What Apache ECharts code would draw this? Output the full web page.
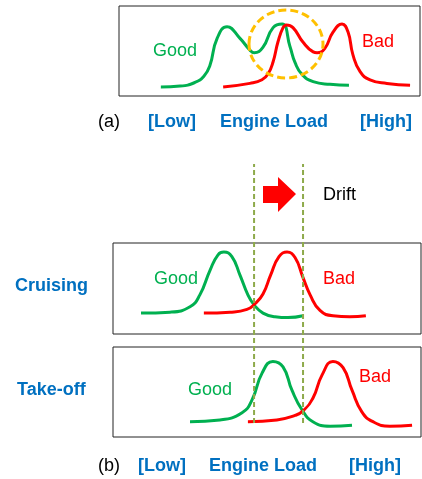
<!DOCTYPE html>
<html>
<head>
<meta charset="utf-8">
<script src="https://cdn.jsdelivr.net/npm/echarts@6/dist/echarts.min.js"></script>
<style>html,body{margin:0;padding:0;background:#fff}#c{width:422px;height:479px}</style>
</head>
<body>
<div id="c"></div>
<script>
// ---- Data (x: engine load 0-100 within panel, y: relative density 0-1) ----
const panelAGood = [[13.9,0.10],[20.3,0.11],[25.2,0.15],[28.2,0.22],[30.2,0.34],[32.6,0.64],[35.9,0.77],[40.2,0.64],[43.5,0.51],[44.9,0.48],[47.8,0.54],[51.2,0.76],[54.2,0.80],[56.8,0.55],[58.5,0.37],[60.8,0.24],[64.5,0.16],[70.1,0.13],[76.4,0.12]];
const panelABad = [[34.6,0.10],[43.5,0.14],[47.5,0.18],[49.6,0.25],[51.2,0.38],[52.8,0.60],[54.5,0.76],[55.6,0.79],[57.8,0.76],[61.1,0.60],[64.5,0.49],[65.8,0.48],[68.4,0.53],[71.1,0.71],[74.1,0.80],[76.1,0.71],[77.7,0.46],[80.1,0.27],[83.4,0.18],[89.0,0.14],[96.7,0.12]];
const cruiseGood = [[9.1,0.23],[18.5,0.24],[25.0,0.30],[28.2,0.43],[31.5,0.70],[34.1,0.87],[36.0,0.90],[38.6,0.85],[41.2,0.65],[43.8,0.43],[45.8,0.32],[48.7,0.23],[52.6,0.19],[56.8,0.18],[61.7,0.20]];
const cruiseBad = [[29.5,0.23],[38.0,0.24],[43.5,0.27],[46.0,0.33],[48.7,0.44],[51.2,0.65],[53.9,0.85],[56.5,0.90],[59.1,0.84],[61.7,0.62],[64.0,0.43],[67.2,0.26],[71.4,0.20],[76.9,0.19],[82.1,0.20]];
const takeoffGood = [[25.0,0.17],[34.7,0.19],[41.9,0.27],[45.1,0.41],[48.4,0.71],[51.9,0.84],[55.2,0.78],[58.1,0.52],[61.4,0.30],[64.9,0.17],[70.5,0.12],[77.6,0.13]];
const takeoffBad = [[43.8,0.17],[53.2,0.19],[59.1,0.24],[61.7,0.29],[64.9,0.43],[67.9,0.69],[71.4,0.84],[74.7,0.77],[77.6,0.52],[80.8,0.28],[84.4,0.17],[89.9,0.12],[97.1,0.13]];
const driftThresholds = [45.8, 61.7];
const axisWords = ['[Low]', 'Engine Load', '[High]'];
const classNames = ['Good', 'Bad'];
const phaseNames = ['Cruising', 'Take-off'];

const GREEN = '#00B050', RED = '#FF0000', BLUE = '#0070C0';
const FONT = '"Liberation Sans", Arial, sans-serif';

const chart = echarts.init(document.getElementById('c'), null, {renderer: 'canvas'});

const grids = [
  {left: 119, top: 6, width: 301, height: 90},
  {left: 113, top: 243, width: 308, height: 91},
  {left: 113, top: 347, width: 308, height: 90},
  {left: 113, top: 164, width: 308, height: 259}
];
const gridOpts = grids.map((g, i) => Object.assign({
  show: i < 3, borderColor: '#222', borderWidth: 1, backgroundColor: 'transparent', containLabel: false
}, g));
const xAxes = grids.map((g, i) => ({type: 'value', gridIndex: i, min: 0, max: 100, show: false}));
const yAxes = grids.map((g, i) => ({type: 'value', gridIndex: i, min: 0, max: 1, show: false}));

function curve(data, color, gi, z) {
  return {type: 'line', xAxisIndex: gi, yAxisIndex: gi, data: data, smooth: 0.5,
    symbol: 'none', lineStyle: {color: color, width: 3}, z: z, silent: true, animation: false};
}
const series = [
  curve(panelAGood, GREEN, 0, 2), curve(panelABad, RED, 0, 3),
  curve(cruiseGood, GREEN, 1, 2), curve(cruiseBad, RED, 1, 3),
  curve(takeoffGood, GREEN, 2, 2), curve(takeoffBad, RED, 2, 3)
];
driftThresholds.forEach(t => series.push({
  type: 'line', xAxisIndex: 3, yAxisIndex: 3, data: [[t, 0], [t, 1]], symbol: 'none',
  lineStyle: {color: '#8EAA4B', width: 2, type: [5, 3]}, z: 5, silent: true, animation: false
}));

function txt(s, x, y, color, bold) {
  return {type: 'text', x: x, y: y, z: 10, silent: true,
    style: {text: s, fill: color, font: (bold ? 'bold ' : '') + '18px ' + FONT,
      align: 'left', verticalAlign: 'middle', textAlign: 'left', textVerticalAlign: 'middle'}};
}
const graphics = [
  txt(classNames[0], 153, 51, GREEN), txt(classNames[1], 362, 42, RED),
  txt('(a)', 98, 122, '#000'),
  txt(axisWords[0], 148, 122, BLUE, true), txt(axisWords[1], 220, 122, BLUE, true), txt(axisWords[2], 360, 122, BLUE, true),
  txt('Drift', 323, 195, '#000'),
  txt(phaseNames[0], 15, 286, BLUE, true), txt(classNames[0], 154, 279, GREEN), txt(classNames[1], 323, 279, RED),
  txt(phaseNames[1], 17, 390, BLUE, true), txt(classNames[0], 188, 390, GREEN), txt(classNames[1], 359, 377, RED),
  txt('(b)', 98, 466, '#000'),
  txt(axisWords[0], 138, 466, BLUE, true), txt(axisWords[1], 209, 466, BLUE, true), txt(axisWords[2], 349, 466, BLUE, true),
  {type: 'ellipse', shape: {cx: 286, cy: 44, rx: 37, ry: 34}, z: 6, silent: true,
    style: {fill: 'none', stroke: '#FFC000', lineWidth: 3, lineDash: [8, 4]}},
  {type: 'polygon', z: 6, silent: true,
    shape: {points: [[263,186],[278,186],[278,177],[296,194],[278,212],[278,203],[263,203]]},
    style: {fill: '#FF0000', stroke: 'none'}}
];

chart.setOption({
  animation: false,
  backgroundColor: '#fff',
  grid: gridOpts,
  xAxis: xAxes,
  yAxis: yAxes,
  series: series,
  graphic: graphics
});
</script>
</body>
</html>
